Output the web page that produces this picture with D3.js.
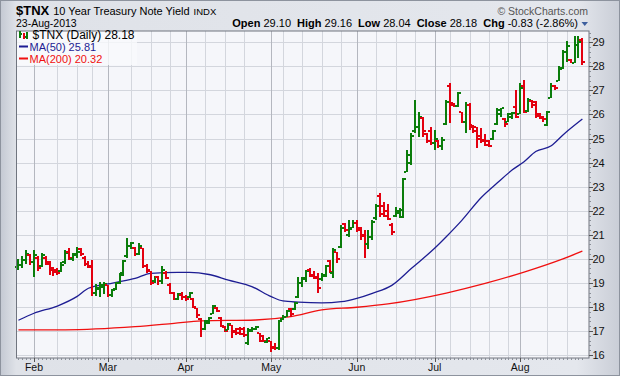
<!DOCTYPE html>
<html lang="en">
<head>
<meta charset="UTF-8">
<title>$TNX Daily</title>
<script src="https://d3js.org/d3.v7.min.js"></script>
<style>
body { margin: 0; background: #fff; }
svg text { font-family: Arial, "Liberation Sans", sans-serif; }
</style>
</head>
<body>
<svg id="chart" width="620" height="376"></svg>
<script>
// trading days shown on the chart (one bar each)
var dates = [
  "2013-01-28","2013-01-29","2013-01-30","2013-01-31",
  "2013-02-01","2013-02-04","2013-02-05","2013-02-06","2013-02-07","2013-02-08",
  "2013-02-11","2013-02-12","2013-02-13","2013-02-14","2013-02-15",
  "2013-02-19","2013-02-20","2013-02-21","2013-02-22",
  "2013-02-25","2013-02-26","2013-02-27","2013-02-28",
  "2013-03-01","2013-03-04","2013-03-05","2013-03-06","2013-03-07","2013-03-08",
  "2013-03-11","2013-03-12","2013-03-13","2013-03-14","2013-03-15",
  "2013-03-18","2013-03-19","2013-03-20","2013-03-21","2013-03-22",
  "2013-03-25","2013-03-26","2013-03-27","2013-03-28",
  "2013-04-01","2013-04-02","2013-04-03","2013-04-04","2013-04-05",
  "2013-04-08","2013-04-09","2013-04-10","2013-04-11","2013-04-12",
  "2013-04-15","2013-04-16","2013-04-17","2013-04-18","2013-04-19",
  "2013-04-22","2013-04-23","2013-04-24","2013-04-25","2013-04-26",
  "2013-04-29","2013-04-30",
  "2013-05-01","2013-05-02","2013-05-03",
  "2013-05-06","2013-05-07","2013-05-08","2013-05-09","2013-05-10",
  "2013-05-13","2013-05-14","2013-05-15","2013-05-16","2013-05-17",
  "2013-05-20","2013-05-21","2013-05-22","2013-05-23","2013-05-24",
  "2013-05-28","2013-05-29","2013-05-30","2013-05-31",
  "2013-06-03","2013-06-04","2013-06-05","2013-06-06","2013-06-07",
  "2013-06-10","2013-06-11","2013-06-12","2013-06-13","2013-06-14",
  "2013-06-17","2013-06-18","2013-06-19","2013-06-20","2013-06-21",
  "2013-06-24","2013-06-25","2013-06-26","2013-06-27","2013-06-28",
  "2013-07-01","2013-07-02","2013-07-03","2013-07-05",
  "2013-07-08","2013-07-09","2013-07-10","2013-07-11","2013-07-12",
  "2013-07-15","2013-07-16","2013-07-17","2013-07-18","2013-07-19",
  "2013-07-22","2013-07-23","2013-07-24","2013-07-25","2013-07-26",
  "2013-07-29","2013-07-30","2013-07-31",
  "2013-08-01","2013-08-02","2013-08-05","2013-08-06","2013-08-07","2013-08-08","2013-08-09",
  "2013-08-12","2013-08-13","2013-08-14","2013-08-15","2013-08-16",
  "2013-08-19","2013-08-20","2013-08-21","2013-08-22","2013-08-23"
];

// daily open / high / low / close (yield x 10), one line per week
var opens = [
  19.65,19.75,19.95,20.15,
  19.85,20.05,19.70,20.05,19.85,19.60,
  19.55,19.50,19.85,20.30,20.00,
  20.20,20.40,20.05,19.80,
  19.70,18.60,18.75,18.90,
  18.90,18.50,18.75,19.00,19.40,20.10,
  20.55,20.45,20.20,20.45,19.70,
  19.50,19.10,19.25,19.10,19.40,
  18.90,18.60,18.35,18.50,
  18.40,18.40,18.35,17.95,17.50,
  17.10,17.35,17.70,17.95,17.55,
  17.18,17.05,17.25,17.00,17.10,
  17.10,16.50,17.00,17.10,16.90,
  16.80,16.55,
  16.60,16.35,16.30,
  17.50,17.60,17.90,17.90,18.40,
  19.00,19.15,19.55,19.35,19.20,
  19.15,19.30,19.90,19.40,20.30,
  20.50,21.45,21.00,21.30,
  21.50,21.30,21.00,20.60,20.90,
  21.70,22.60,22.20,22.00,21.40,
  21.80,21.90,21.75,23.62,24.00,
  25.30,25.50,25.85,25.20,25.30,
  24.80,24.90,24.70,25.60,
  27.20,26.47,26.35,26.10,25.70,
  26.40,25.56,25.50,25.10,24.95,
  24.90,25.00,25.60,26.00,25.80,
  25.70,25.90,26.30,
  26.00,27.20,26.15,26.55,26.50,25.95,25.90,
  25.55,26.70,27.20,27.40,27.95,
  28.60,28.25,28.15,28.90,29.10
];
var highs = [
  20.00,20.10,20.35,20.20,
  20.35,20.10,20.25,20.10,19.90,19.65,
  19.60,19.85,20.35,20.45,20.25,
  20.50,20.45,20.10,19.90,
  19.96,18.95,19.05,19.05,
  18.90,18.75,19.05,19.40,19.95,20.87,
  20.70,20.50,20.66,20.45,19.80,
  19.50,19.30,19.30,19.70,19.50,
  19.00,18.64,18.60,18.64,
  18.50,18.64,18.37,17.96,17.55,
  17.47,17.60,18.10,17.98,17.60,
  17.20,17.33,17.25,17.12,17.18,
  17.18,17.12,17.15,17.20,16.92,
  16.84,16.72,
  16.60,16.50,17.47,
  17.67,17.88,17.95,18.22,19.26,
  19.26,19.54,19.62,19.50,19.40,
  19.40,19.75,19.96,20.45,20.30,
  21.41,21.50,21.62,21.62,
  21.62,21.34,21.20,21.20,21.62,
  22.30,22.73,22.38,22.30,21.50,
  22.17,22.10,23.36,24.52,25.23,
  26.60,26.12,25.90,25.23,25.50,
  25.36,24.94,25.08,26.60,
  27.30,26.47,26.95,26.12,26.53,
  26.47,25.56,25.50,25.43,25.20,
  24.94,25.36,26.26,26.26,25.84,
  26.05,26.10,27.02,
  27.30,27.45,26.69,26.60,26.55,26.05,25.95,
  26.13,27.31,27.24,28.00,28.69,
  29.04,28.30,29.25,29.25,29.16
];
var lows = [
  19.55,19.60,19.80,19.75,
  19.25,19.50,19.65,19.75,19.35,19.30,
  19.35,19.45,19.80,19.95,19.90,
  20.05,20.10,19.70,19.60,
  18.44,18.45,18.40,18.55,
  18.40,18.40,18.70,18.95,19.30,20.05,
  20.40,20.10,20.15,19.60,19.40,
  18.90,19.00,18.90,18.95,19.15,
  18.55,18.29,18.30,18.29,
  18.25,18.36,17.96,17.55,16.76,
  17.05,17.30,17.70,17.78,17.18,
  16.98,17.05,16.72,16.84,16.85,
  16.77,16.42,16.98,17.05,16.56,
  16.55,16.50,
  16.15,16.22,16.22,
  17.45,17.58,17.60,17.88,18.36,
  18.85,19.05,19.26,19.15,18.60,
  19.10,19.26,19.40,19.20,19.82,
  20.44,21.13,20.92,21.27,
  21.10,20.80,20.04,20.40,20.80,
  21.60,21.75,21.75,21.60,21.00,
  21.75,21.70,21.70,23.62,23.90,
  25.23,25.08,25.08,24.80,24.73,
  24.52,24.60,24.52,25.56,
  25.65,26.30,26.33,25.65,25.22,
  25.36,25.23,24.60,24.80,24.70,
  24.66,24.94,25.56,25.90,25.50,
  25.70,25.80,25.85,
  26.00,26.05,26.10,26.27,25.85,25.80,25.70,
  25.51,26.69,27.03,27.38,27.90,
  28.20,28.14,28.14,28.35,28.04
];
var closes = [
  19.75,19.95,20.20,19.85,
  20.15,19.60,20.15,19.80,19.55,19.45,
  19.42,19.75,20.25,20.05,20.15,
  20.30,20.20,19.80,19.65,
  18.60,18.80,18.85,18.95,
  18.50,18.70,19.00,19.35,19.90,20.55,
  20.65,20.20,20.55,19.70,19.55,
  19.00,19.25,19.10,19.55,19.20,
  18.60,18.35,18.55,18.40,
  18.35,18.60,18.00,17.65,17.10,
  17.40,17.55,18.05,17.82,17.22,
  17.00,17.30,16.95,16.90,16.88,
  16.85,17.05,17.10,17.18,16.60,
  16.58,16.70,
  16.30,16.28,17.40,
  17.60,17.85,17.70,18.15,19.00,
  19.20,19.50,19.30,19.25,18.80,
  19.35,19.70,19.45,20.35,20.00,
  21.30,21.20,21.25,21.50,
  21.20,20.95,20.60,20.90,21.55,
  22.20,21.85,21.80,21.65,21.10,
  22.00,22.05,23.30,24.30,25.10,
  25.50,25.90,25.30,24.90,24.80,
  25.00,24.70,24.95,26.50,
  26.40,26.35,26.90,25.70,26.40,
  25.50,25.30,25.00,24.90,24.75,
  24.70,25.30,26.20,26.25,25.60,
  26.00,26.05,25.90,
  27.10,26.10,26.60,26.40,26.00,25.85,25.80,
  26.10,27.20,27.10,27.90,28.60,
  28.85,28.15,28.90,29.01,28.18
];
var firstPrevClose = 19.60;

// moving averages (day number -> value)
var ma50Day = [0, 4, 10, 15, 18, 23, 26, 30, 34, 41, 44, 49, 54, 60, 65, 68, 72, 78, 83, 87, 91, 96, 101, 107, 110, 114, 119, 123, 127, 130, 133, 137, 140, 145];
var ma50Val = [17.45, 17.74, 18.04, 18.43, 18.78, 18.96, 19.05, 19.19, 19.40, 19.44, 19.44, 19.35, 19.12, 18.85, 18.43, 18.25, 18.20, 18.17, 18.22, 18.36, 18.57, 18.90, 19.60, 20.44, 20.92, 21.60, 22.55, 23.14, 23.70, 24.04, 24.46, 24.70, 25.15, 25.81];
var ma200Day = [0, 12, 30, 40, 47, 61, 70, 78, 87, 95, 110, 120, 130, 140, 145];
var ma200Val = [17.05, 17.05, 17.18, 17.32, 17.42, 17.46, 17.60, 17.88, 17.99, 18.13, 18.58, 18.98, 19.45, 20.00, 20.32];

var yTicks = [16, 17, 18, 19, 20, 21, 22, 23, 24, 25, 26, 27, 28, 29];
var monthNames = ["Jan", "Feb", "Mar", "Apr", "May", "Jun", "Jul", "Aug", "Sep", "Oct", "Nov", "Dec"];

var W = 620, H = 376;
var plotL = 16.5, plotR = 589, plotT = 31, plotB = 358;
var upColor = "#0b7d0b", downColor = "#e3000f";

var svg = d3.select("#chart");
var defs = svg.append("defs");

var bgGrad = defs.append("linearGradient").attr("id", "bg").attr("x1", 0).attr("x2", 1).attr("y1", 0).attr("y2", 0);
bgGrad.append("stop").attr("offset", "0").attr("stop-color", "#c3c8d2");
bgGrad.append("stop").attr("offset", "0.026").attr("stop-color", "#dfe2e8");
bgGrad.append("stop").attr("offset", "0.93").attr("stop-color", "#e4e7ed");
bgGrad.append("stop").attr("offset", "1").attr("stop-color", "#c9cdd6");

svg.append("rect").attr("width", W).attr("height", H).attr("fill", "url(#bg)");
svg.append("rect").attr("x", 0.5).attr("y", 0.5).attr("width", W - 1).attr("height", H - 1)
  .attr("fill", "none").attr("stroke", "#8d939e");

svg.append("rect").attr("x", plotL).attr("y", plotT).attr("width", plotR - plotL).attr("height", plotB - plotT)
  .attr("fill", "#f5f6fa");

var n = dates.length;
var x = d3.scaleLinear().domain([-0.5, 146.7]).range([plotL, plotR]);
var y = d3.scaleLinear().domain([15.88, 29.47]).range([plotB, plotT]);

var parse = d3.timeParse("%Y-%m-%d");
var days = dates.map(parse);

// month starts and week starts
var monthStart = [], weekStart = [];
days.forEach(function(d, i) {
  if (i == 0) return;
  if (d.getMonth() != days[i - 1].getMonth()) monthStart.push(i);
  else if (d.getDay() < days[i - 1].getDay()) weekStart.push(i);
});
weekStart = weekStart.filter(function(i) {
  return !monthStart.some(function(m) { return Math.abs(m - i) <= 2; });
});

var grid = svg.append("g");
grid.selectAll(".hg").data(yTicks).enter().append("line")
  .attr("x1", plotL).attr("x2", plotR)
  .attr("y1", function(d) { return Math.round(y(d)) + 0.5; })
  .attr("y2", function(d) { return Math.round(y(d)) + 0.5; })
  .attr("stroke", "#d3d6dd");
grid.selectAll(".wg").data(weekStart).enter().append("line")
  .attr("x1", function(i) { return Math.round(x(i)) + 0.5; })
  .attr("x2", function(i) { return Math.round(x(i)) + 0.5; })
  .attr("y1", plotT).attr("y2", plotB)
  .attr("stroke", "#d3d6dd");
grid.selectAll(".mg").data(monthStart).enter().append("line")
  .attr("x1", function(i) { return Math.round(x(i)) + 0.5; })
  .attr("x2", function(i) { return Math.round(x(i)) + 0.5; })
  .attr("y1", plotT).attr("y2", plotB)
  .attr("stroke", "#b4b7bf");

// moving averages
var line = d3.line()
  .x(function(d) { return x(d[0]); })
  .y(function(d) { return y(d[1]); })
  .curve(d3.curveMonotoneX);
svg.append("path").datum(d3.zip(ma200Day, ma200Val)).attr("d", line)
  .attr("fill", "none").attr("stroke", "#f01010").attr("stroke-width", 1.3);
svg.append("path").datum(d3.zip(ma50Day, ma50Val)).attr("d", line)
  .attr("fill", "none").attr("stroke", "#1d1d93").attr("stroke-width", 1.3);

// OHLC bars
var bars = svg.append("g").attr("shape-rendering", "crispEdges");
d3.range(n).forEach(function(i) {
  var prev = i == 0 ? firstPrevClose : closes[i - 1];
  var c = closes[i] >= prev ? upColor : downColor;
  var cx = Math.round(x(i));
  var g = bars.append("g").attr("fill", c);
  var yh = Math.round(y(highs[i])), yl = Math.round(y(lows[i]));
  g.append("rect").attr("x", cx - 1).attr("y", yh).attr("width", 2).attr("height", Math.max(2, yl - yh));
  g.append("rect").attr("x", cx - 3).attr("y", Math.round(y(opens[i])) - 1).attr("width", 2).attr("height", 2);
  g.append("rect").attr("x", cx + 1).attr("y", Math.round(y(closes[i])) - 1).attr("width", 2).attr("height", 2);
});

// plot frame
svg.append("rect").attr("x", plotL).attr("y", plotT).attr("width", plotR - plotL).attr("height", plotB - plotT)
  .attr("fill", "none").attr("stroke", "#70757f");

// right axis
var ax = svg.append("g").attr("shape-rendering", "crispEdges");
ax.selectAll(".mt").data(d3.range(16, 29.41, 0.2)).enter().append("line")
  .attr("x1", plotR).attr("x2", plotR + 2)
  .attr("y1", function(d) { return Math.round(y(d)) + 0.5; })
  .attr("y2", function(d) { return Math.round(y(d)) + 0.5; })
  .attr("stroke", "#8a8f98");
ax.selectAll(".Mt").data(yTicks).enter().append("line")
  .attr("x1", plotR).attr("x2", plotR + 4)
  .attr("y1", function(d) { return Math.round(y(d)) + 0.5; })
  .attr("y2", function(d) { return Math.round(y(d)) + 0.5; })
  .attr("stroke", "#555");
svg.selectAll(".yl").data(yTicks).enter().append("text")
  .attr("x", plotR + 3.5).attr("y", function(d) { return y(d) + 4; })
  .attr("font-size", 11).attr("fill", "#111")
  .text(function(d) { return d; });

// bottom axis
ax.selectAll(".dt").data(d3.range(n)).enter().append("line")
  .attr("x1", function(i) { return Math.round(x(i)) + 0.5; })
  .attr("x2", function(i) { return Math.round(x(i)) + 0.5; })
  .attr("y1", plotB).attr("y2", plotB + 2)
  .attr("stroke", "#8a8f98");
ax.selectAll(".mtk").data(monthStart).enter().append("line")
  .attr("x1", function(i) { return Math.round(x(i)) + 0.5; })
  .attr("x2", function(i) { return Math.round(x(i)) + 0.5; })
  .attr("y1", plotB).attr("y2", plotB + 4)
  .attr("stroke", "#555");
svg.selectAll(".xl").data(monthStart).enter().append("text")
  .attr("x", function(i) { return x(i); }).attr("y", 371)
  .attr("text-anchor", "middle").attr("font-size", 10.5).attr("fill", "#111")
  .text(function(i) { return monthNames[days[i].getMonth()]; });

// header
var t1 = svg.append("text").attr("x", 16).attr("y", 15).attr("fill", "#000");
t1.append("tspan").attr("font-size", 13).attr("font-weight", "bold").text("$TNX");
t1.append("tspan").attr("font-size", 11).attr("dx", 4).text("10 Year Treasury Note Yield");
t1.append("tspan").attr("font-size", 9.5).attr("dx", 4).text("INDX");
svg.append("text").attr("x", 16).attr("y", 26.5).attr("font-size", 10.5).text("23-Aug-2013");
svg.append("text").attr("x", 588).attr("y", 14.5).attr("text-anchor", "end")
  .attr("font-size", 10.5).attr("fill", "#555").text("\u00a9 StockCharts.com");

var info = [["Open", "29.10"], ["High", "29.16"], ["Low", "28.04"], ["Close", "28.18"], ["Chg", "-0.83 (-2.86%)"]];
var t2 = svg.append("text").attr("x", 578).attr("y", 26.5).attr("text-anchor", "end").attr("font-size", 11);
info.forEach(function(p, k) {
  t2.append("tspan").attr("font-weight", "bold").attr("dx", k == 0 ? 0 : 6).text(p[0]);
  t2.append("tspan").text(" " + p[1]);
});
svg.append("path").attr("d", "M581.5,22 L588,22 L584.75,26 Z").attr("fill", "#3d5f9e");

// legend
var lg = svg.append("g");
lg.append("rect").attr("x", 17).attr("y", 32).attr("width", 120).attr("height", 33).attr("fill", "#f9fafc").attr("opacity", 0.8);
var icon = lg.append("g").attr("shape-rendering", "crispEdges");
icon.append("rect").attr("x", 19).attr("y", 31).attr("width", 1.5).attr("height", 7).attr("fill", upColor);
icon.append("rect").attr("x", 20.5).attr("y", 33).attr("width", 1.5).attr("height", 1.5).attr("fill", upColor);
icon.append("rect").attr("x", 23).attr("y", 33).attr("width", 1.5).attr("height", 6).attr("fill", downColor);
icon.append("rect").attr("x", 26).attr("y", 32).attr("width", 1.5).attr("height", 7).attr("fill", upColor);
icon.append("rect").attr("x", 24.5).attr("y", 36).attr("width", 1.5).attr("height", 1.5).attr("fill", upColor);
lg.append("text").attr("x", 32.5).attr("y", 39).attr("font-size", 12).text("$TNX (Daily) 28.18");
lg.append("rect").attr("x", 19).attr("y", 45.5).attr("width", 9).attr("height", 2).attr("fill", "#1d1d93");
lg.append("text").attr("x", 29.5).attr("y", 51).attr("font-size", 11).attr("fill", "#1d1d93").text("MA(50) 25.81");
lg.append("rect").attr("x", 19).attr("y", 57.5).attr("width", 9).attr("height", 2).attr("fill", "#f01010");
lg.append("text").attr("x", 29.5).attr("y", 63).attr("font-size", 11).attr("fill", "#f01010").text("MA(200) 20.32");
</script>
</body>
</html>
